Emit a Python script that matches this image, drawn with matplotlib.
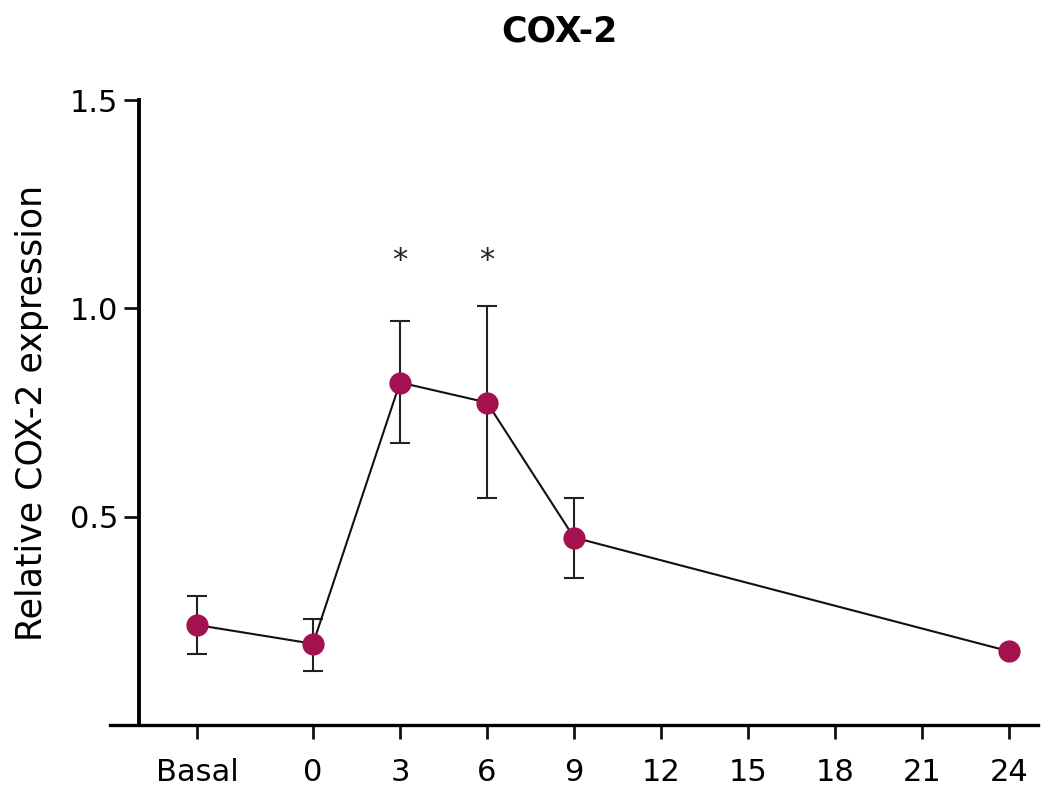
import numpy as np
import matplotlib
matplotlib.use('Agg')
import matplotlib.pyplot as plt

# hours after treatment; "Basal" sits left of 0 on the same axis
hours = [-4, 0, 3, 6, 9, 24]
expression = [0.240, 0.195, 0.822, 0.774, 0.450, 0.177]
err_low = [0.070, 0.065, 0.146, 0.229, 0.096, 0.0]
err_high = [0.070, 0.060, 0.148, 0.232, 0.095, 0.0]
signif_hours = [3, 6]
signif_y = 1.095

xtick_pos = [-4, 0, 3, 6, 9, 12, 15, 18, 21, 24]
xtick_labels = ['Basal', '0', '3', '6', '9', '12', '15', '18', '21', '24']
ytick_pos = [0.5, 1.0, 1.5]
ytick_labels = ['0.5', '1.0', '1.5']

point_color = '#A3114F'

plt.rcParams['font.family'] = ['DejaVu Sans']

fig = plt.figure(figsize=(10.45, 8), dpi=100)
ax = fig.add_axes([0.1053, 0.09375, 0.888, 0.78125])

ax.errorbar(hours, expression, yerr=[err_low, err_high], fmt='none',
            ecolor='#222222', elinewidth=1.5, capsize=7.5, capthick=1.5, zorder=2)
ax.plot(hours, expression, color='#111111', lw=1.5, zorder=3)
ax.plot(hours, expression, 'o', color=point_color, markersize=16,
        markeredgewidth=0, zorder=4, clip_on=False)

for h in signif_hours:
    ax.text(h, signif_y, '*', ha='center', va='baseline', fontsize=22, color='#222222')

ax.set_xlim(-7, 25)
ax.set_ylim(0, 1.5)
ax.set_xticks(xtick_pos)
ax.set_xticklabels(xtick_labels)
ax.set_yticks(ytick_pos)
ax.set_yticklabels(ytick_labels)

ax.spines['top'].set_visible(False)
ax.spines['right'].set_visible(False)
ax.spines['left'].set_position(('data', -6))
ax.spines['left'].set_linewidth(2.8)
ax.spines['bottom'].set_linewidth(2.4)

ax.tick_params(axis='y', length=11, width=2, pad=4, labelsize=22, color='#111111')
ax.tick_params(axis='x', length=10, width=2, pad=14, labelsize=22, color='#111111')

ax.set_ylabel('Relative COX-2 expression', fontsize=25)
ax.yaxis.set_label_coords(-0.066, 0.5)

fig.text(0.535, 1 - 31 / 800, 'COX-2', ha='center', va='center',
         fontsize=25, fontweight='bold')

fig.savefig('out.png', dpi=100)
